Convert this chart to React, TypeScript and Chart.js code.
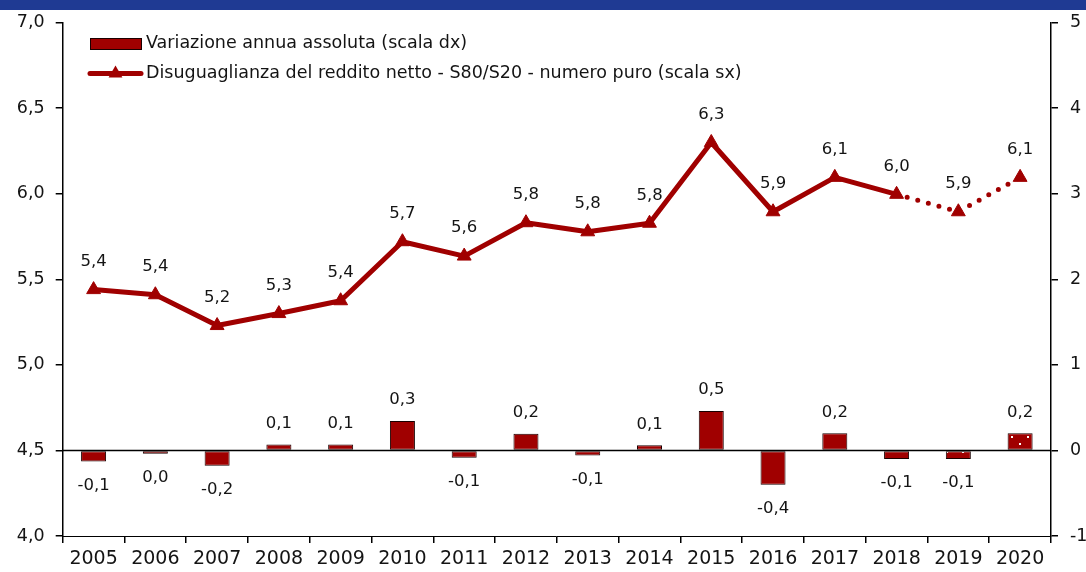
import React, { useEffect, useRef } from 'react';
import { Chart, registerables } from 'chart.js';

Chart.register(...registerables);

const years = ['2005', '2006', '2007', '2008', '2009', '2010', '2011', '2012', '2013', '2014', '2015', '2016', '2017', '2018', '2019', '2020'];
const inequality = [5.44, 5.41, 5.23, 5.3, 5.375, 5.72, 5.636, 5.831, 5.778, 5.828, 6.3, 5.895, 6.096, 5.997, 5.895, 6.096];
const inequalityLabels = ['5,4', '5,4', '5,2', '5,3', '5,4', '5,7', '5,6', '5,8', '5,8', '5,8', '6,3', '5,9', '6,1', '6,0', '5,9', '6,1'];
const change = [-0.13, -0.04, -0.18, 0.07, 0.07, 0.345, -0.084, 0.196, -0.06, 0.06, 0.46, -0.4, 0.2, -0.1, -0.1, 0.2];
const changeLabels = ['-0,1', '0,0', '-0,2', '0,1', '0,1', '0,3', '-0,1', '0,2', '-0,1', '0,1', '0,5', '-0,4', '0,2', '-0,1', '-0,1', '0,2'];
const legendBar = 'Variazione annua assoluta (scala dx)';
const legendLine = 'Disuguaglianza del reddito netto - S80/S20 - numero puro (scala sx)';
const dottedFromIndex = 13; // line dotted after 2018
const patternFromIndex = 14; // bars with dotted pattern (2019, 2020)

const RED = '#A00000';
const TEXT = '#141414';
const FONT = '"DejaVu Sans", sans-serif';

function makePattern(): CanvasPattern | string {
  const c = document.createElement('canvas');
  c.width = 65;
  c.height = 30;
  const g = c.getContext('2d');
  if (!g) return RED;
  g.fillStyle = RED;
  g.fillRect(0, 0, 65, 30);
  g.fillStyle = '#ffffff';
  const offs = [[4.2, 1.7], [12.3, 9.2]];
  for (let k = 0; k < 4; k++) {
    for (const [ox, oy] of offs) {
      for (let r = 0; r < 2; r++) {
        const x = Math.round(ox + k * 16.25);
        const y = Math.round(oy + r * 15);
        g.fillRect(x - 1, y - 1, 2, 2);
      }
    }
  }
  return g.createPattern(c, 'repeat') || RED;
}

const headerPlugin = {
  id: 'header',
  beforeDraw(chart: any) {
    const ctx = chart.ctx;
    ctx.save();
    ctx.fillStyle = '#1F3A93';
    ctx.fillRect(0, 0, chart.width, 10);
    ctx.restore();
  },
};

const zeroLinePlugin = {
  id: 'zeroLine',
  beforeDatasetsDraw(chart: any) {
    const ctx = chart.ctx;
    const y = Math.round(chart.scales.yR.getPixelForValue(0)) + 0.5;
    ctx.save();
    ctx.strokeStyle = '#000';
    ctx.lineWidth = 1.5;
    ctx.beginPath();
    ctx.moveTo(chart.chartArea.left, y);
    ctx.lineTo(chart.chartArea.right, y);
    ctx.stroke();
    ctx.restore();
  },
};

const valueLabelPlugin = {
  id: 'valueLabels',
  afterDatasetsDraw(chart: any) {
    const ctx = chart.ctx;
    ctx.save();
    ctx.font = '16.5px ' + FONT;
    ctx.fillStyle = TEXT;
    ctx.textAlign = 'center';
    ctx.textBaseline = 'middle';
    const lineMeta = chart.getDatasetMeta(0);
    lineMeta.data.forEach((pt: any, i: number) => {
      ctx.fillText(inequalityLabels[i], pt.x, pt.y - 28);
    });
    const barMeta = chart.getDatasetMeta(1);
    barMeta.data.forEach((bar: any, i: number) => {
      const y = change[i] >= 0 ? bar.y - 21 : bar.y + 24;
      ctx.fillText(changeLabels[i], bar.x, y);
    });
    ctx.restore();
  },
};

const legendPlugin = {
  id: 'customLegend',
  afterDraw(chart: any) {
    const ctx = chart.ctx;
    ctx.save();
    // bar entry
    ctx.fillStyle = RED;
    ctx.fillRect(90, 38, 52, 12);
    ctx.strokeStyle = '#1a0000';
    ctx.lineWidth = 1;
    ctx.strokeRect(90.5, 38.5, 51, 11);
    // line entry
    ctx.strokeStyle = RED;
    ctx.lineWidth = 5;
    ctx.lineCap = 'round';
    ctx.beginPath();
    ctx.moveTo(90, 73.5);
    ctx.lineTo(141, 73.5);
    ctx.stroke();
    const cx = 115.5;
    const cy = 73.5;
    const r = 8;
    ctx.fillStyle = RED;
    ctx.beginPath();
    for (let k = 0; k < 3; k++) {
      const a = (k * 2 * Math.PI) / 3;
      const x = cx + Math.sin(a) * r;
      const y = cy - Math.cos(a) * r;
      if (k === 0) ctx.moveTo(x, y);
      else ctx.lineTo(x, y);
    }
    ctx.closePath();
    ctx.fill();
    // texts
    ctx.font = '17.5px ' + FONT;
    ctx.fillStyle = TEXT;
    ctx.textAlign = 'left';
    ctx.textBaseline = 'middle';
    ctx.fillText(legendBar, 146, 43);
    ctx.fillText(legendLine, 146, 73.5);
    ctx.restore();
  },
};

export default function App() {
  const ref = useRef<HTMLCanvasElement | null>(null);

  useEffect(() => {
    if (!ref.current) return;
    const pattern = makePattern();
    const chart = new Chart(ref.current, {
      type: 'bar',
      data: {
        labels: years,
        datasets: [
          {
            type: 'line',
            label: legendLine,
            data: inequality,
            yAxisID: 'yL',
            borderColor: RED,
            backgroundColor: RED,
            borderWidth: 5,
            borderJoinStyle: 'round',
            borderCapStyle: 'round',
            pointStyle: 'triangle',
            pointRadius: 8,
            pointBorderWidth: 1,
            pointBackgroundColor: RED,
            pointBorderColor: RED,
            tension: 0,
            segment: {
              borderDash: (c: any) => (c.p0DataIndex >= dottedFromIndex ? [0, 11] : undefined),
              borderWidth: (c: any) => (c.p0DataIndex >= dottedFromIndex ? 5 : undefined),
            },
          } as any,
          {
            type: 'bar',
            label: legendBar,
            data: change,
            yAxisID: 'yR',
            backgroundColor: (c: any) => (c.dataIndex >= patternFromIndex ? pattern : RED),
            borderColor: '#1a0000',
            borderWidth: 1,
            borderSkipped: false,
            categoryPercentage: 1,
            barPercentage: 0.405,
          } as any,
        ],
      },
      options: {
        animation: false,
        responsive: true,
        maintainAspectRatio: false,
        layout: { padding: { top: 22.7, left: 0, right: 0, bottom: 0 } },
        plugins: {
          legend: { display: false },
          tooltip: { enabled: false },
        },
        scales: {
          x: {
            type: 'category',
            offset: true,
            grid: {
              display: true,
              drawOnChartArea: false,
              drawTicks: true,
              tickLength: 7,
              color: '#000',
              lineWidth: 1.5,
              offset: true,
            },
            border: { display: true, color: '#000', width: 1 },
            ticks: {
              color: TEXT,
              font: { family: FONT, size: 19 },
              padding: 5,
              maxRotation: 0,
              autoSkip: false,
            },
            afterFit: (s: any) => {
              s.height = 36;
            },
          },
          yL: {
            type: 'linear',
            position: 'left',
            min: 4,
            max: 7,
            ticks: {
              stepSize: 0.5,
              color: TEXT,
              font: { family: FONT, size: 17.5 },
              padding: 11,
              callback: (v: any) => Number(v).toFixed(1).replace('.', ','),
            },
            grid: {
              drawOnChartArea: false,
              drawTicks: true,
              tickLength: 7,
              color: '#000',
              lineWidth: 1.5,
            },
            border: { display: true, color: '#000', width: 1.5 },
            afterFit: (s: any) => {
              s.width = 62.7;
            },
          },
          yR: {
            type: 'linear',
            position: 'right',
            min: -1,
            max: 5,
            ticks: {
              stepSize: 1,
              color: TEXT,
              font: { family: FONT, size: 17.5 },
              padding: 12,
              callback: (v: any) => String(v),
            },
            grid: {
              drawOnChartArea: false,
              drawTicks: true,
              tickLength: 7,
              color: '#000',
              lineWidth: 1.5,
            },
            border: { display: true, color: '#000', width: 1.5 },
            afterFit: (s: any) => {
              s.width = 35;
            },
          },
        },
      },
      plugins: [headerPlugin, zeroLinePlugin, valueLabelPlugin, legendPlugin],
    });
    return () => chart.destroy();
  }, []);

  return (
    <div style={{ position: 'absolute', left: 0, top: 0, width: 1086, height: 572, background: '#fff' }}>
      <canvas ref={ref} />
    </div>
  );
}
